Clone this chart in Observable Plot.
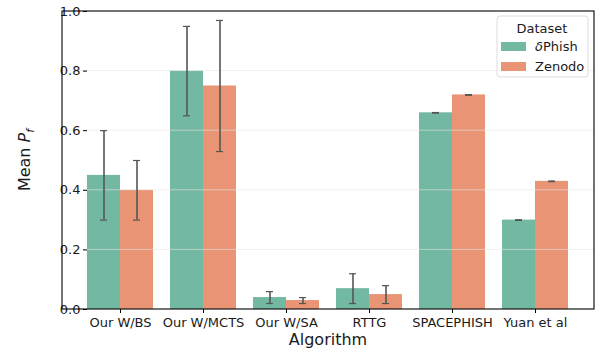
<!DOCTYPE html>
<html>
<head>
<meta charset="utf-8">
<script src="https://cdn.jsdelivr.net/npm/d3@7"></script>
<script src="https://cdn.jsdelivr.net/npm/@observablehq/plot@0.6"></script>
<style>
  html, body { margin: 0; padding: 0; background: #fff; }
  #chart { position: relative; width: 600px; height: 352px; }
</style>
</head>
<body>
<div id="chart"></div>
<script>
const algorithms = ["Our W/BS", "Our W/MCTS", "Our W/SA", "RTTG", "SPACEPHISH", "Yuan et al"];
const datasets = ["δPhish", "Zenodo"];
const dphishMean = [0.45, 0.80, 0.04, 0.07, 0.66, 0.30];
const dphishLo   = [0.30, 0.65, 0.02, 0.02, 0.659, 0.299];
const dphishHi   = [0.60, 0.95, 0.06, 0.12, 0.661, 0.301];
const zenodoMean = [0.40, 0.75, 0.03, 0.05, 0.72, 0.43];
const zenodoLo   = [0.30, 0.53, 0.02, 0.02, 0.719, 0.429];
const zenodoHi   = [0.50, 0.97, 0.04, 0.08, 0.721, 0.431];
const yTicks = [0, 0.2, 0.4, 0.6, 0.8, 1.0];
const colors = ["#72b8a2", "#e99575"];

const rows = [];
algorithms.forEach((a, i) => {
  rows.push({algorithm: a, dataset: datasets[0], mean: dphishMean[i], lo: dphishLo[i], hi: dphishHi[i]});
  rows.push({algorithm: a, dataset: datasets[1], mean: zenodoMean[i], lo: zenodoLo[i], hi: zenodoHi[i]});
});

const chart = Plot.plot({
  width: 600,
  height: 352,
  marginLeft: 62,
  marginRight: 6,
  marginTop: 11,
  marginBottom: 43,
  style: {fontFamily: "DejaVu Sans", fontSize: "13px", color: "#1a1a1a", background: "#fff"},
  fx: {domain: algorithms, paddingInner: 0.2, paddingOuter: 0.3, label: null},
  x: {domain: datasets, padding: 0, axis: null},
  y: {domain: [0, 1], ticks: yTicks, label: null},
  color: {domain: datasets, range: colors},
  marks: [
    Plot.barY(rows, {fx: "algorithm", x: "dataset", y: "mean", fill: "dataset"}),
    Plot.ruleX(rows, {fx: "algorithm", x: "dataset", y1: "lo", y2: "hi", stroke: "#555", strokeWidth: 1.6}),
    Plot.tickY(rows, {fx: "algorithm", x: "dataset", y: "lo", stroke: "#555", strokeWidth: 1.2, insetLeft: 13, insetRight: 13}),
    Plot.tickY(rows, {fx: "algorithm", x: "dataset", y: "hi", stroke: "#555", strokeWidth: 1.2, insetLeft: 13, insetRight: 13}),
    Plot.axisY({ticks: yTicks, tickFormat: d3.format(".1f"), tickSize: 4, tickPadding: 3, label: null, stroke: "#000", fontSize: 13, fontFamily: "DejaVu Sans"}),
    Plot.axisFx({anchor: "bottom", tickSize: 4, tickPadding: 4, label: null, stroke: "#000", fontSize: 13, fontFamily: "DejaVu Sans"})
  ]
});

document.getElementById("chart").appendChild(chart);

const svg = d3.select(chart);
const yScale = chart.scale("y");
const [yBottom, yTop] = yScale.range;
const xLeft = 62, xRight = 600 - 6;

// Gridlines above bars, below error bars
const barGroup = svg.select('g[aria-label="bar"]').node();
const grid = document.createElementNS("http://www.w3.org/2000/svg", "g");
barGroup.after(grid);
d3.select(grid).selectAll("line").data(yTicks.slice(1, -1)).join("line")
  .attr("x1", xLeft).attr("x2", xRight)
  .attr("y1", d => yScale.apply(d)).attr("y2", d => yScale.apply(d))
  .attr("stroke", "#e4e4e4").attr("stroke-opacity", 0.6);

// Frame
svg.append("rect")
  .attr("x", xLeft).attr("y", yTop).attr("width", xRight - xLeft).attr("height", yBottom - yTop)
  .attr("fill", "none").attr("stroke", "#000").attr("stroke-width", 1.1);

// Y axis label with italic P and subscript f
const yl = svg.append("text")
  .attr("transform", "translate(30,160) rotate(-90)")
  .attr("text-anchor", "middle")
  .style("font-family", "DejaVu Sans")
  .style("font-size", "16px")
  .attr("fill", "#1a1a1a");
yl.append("tspan").text("Mean ");
yl.append("tspan").style("font-style", "italic").text("P");
yl.append("tspan").style("font-style", "italic").style("font-size", "11px").attr("dy", 4).text("f");

svg.append("text")
  .attr("x", 328).attr("y", 345)
  .attr("text-anchor", "middle")
  .style("font-family", "DejaVu Sans")
  .style("font-size", "16px")
  .attr("fill", "#1a1a1a")
  .text("Algorithm");

// Legend
const lg = svg.append("g").style("font-family", "DejaVu Sans").style("font-size", "13px").attr("fill", "#1a1a1a");
lg.append("rect").attr("x", 497).attr("y", 16).attr("width", 91).attr("height", 61)
  .attr("rx", 3).attr("fill", "#fff").attr("fill-opacity", 0.85).attr("stroke", "#dcdcdc");
lg.append("text").attr("x", 542).attr("y", 33).attr("text-anchor", "middle").text("Dataset");
datasets.forEach((d, i) => {
  lg.append("rect").attr("x", 501).attr("y", 42 + i * 20).attr("width", 25).attr("height", 9).attr("fill", colors[i]);
  const t = lg.append("text").attr("x", 535).attr("y", 51 + i * 20).attr("text-anchor", "start");
  if (d.startsWith("δ")) {
    t.append("tspan").style("font-style", "italic").text("δ");
    t.append("tspan").text(d.slice(1));
  } else {
    t.text(d);
  }
});
</script>
</body>
</html>
